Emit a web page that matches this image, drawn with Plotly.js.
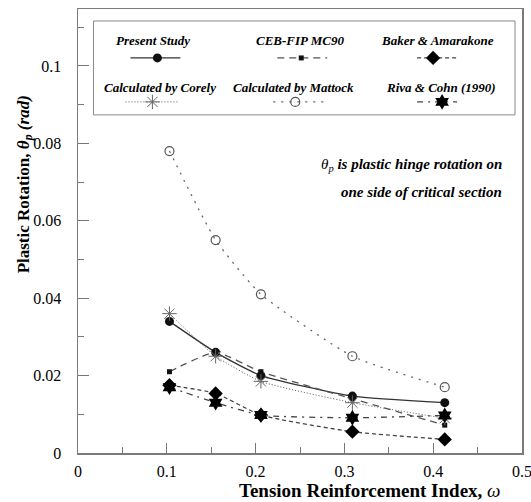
<!DOCTYPE html>
<html>
<head>
<meta charset="utf-8">
<script src="https://cdn.plot.ly/plotly-3.0.1.min.js"></script>
<style>html,body{margin:0;padding:0;background:#fff;}#chart{width:531px;height:502px;}</style>
</head>
<body>
<div id="chart"></div>
<script>
// ---- data ----
var omega = [0.103, 0.155, 0.206, 0.309, 0.413];
var presentStudy = [0.034, 0.026, 0.020, 0.0147, 0.013];
var cebFip = [0.021, 0.026, 0.021, 0.014, 0.0072];
var bakerAmarakone = [0.0175, 0.0154, 0.0098, 0.0055, 0.0035];
var corely = [0.036, 0.025, 0.0185, 0.013, 0.009];
var mattock = [0.078, 0.055, 0.041, 0.025, 0.017];
var rivaCohn = [0.017, 0.013, 0.0098, 0.0091, 0.0097];
var seriesNames = ["Present Study", "CEB-FIP MC90", "Baker &amp; Amarakone",
                   "Calculated by Corely", "Calculated by Mattock", "Riva &amp; Cohn (1990)"];
var xTicks = [0, 0.1, 0.2, 0.3, 0.4, 0.5];
var yTicks = [0, 0.02, 0.04, 0.06, 0.08, 0.1];

var FONT = "'Liberation Serif', 'Times New Roman', Times, serif";

var styles = [
  {line:{color:'#333', width:1.3, dash:'solid'}, marker:{symbol:'circle', size:9, color:'#111'}},
  {line:{color:'#555', width:1.3, dash:'7px,5px'}, marker:{symbol:'square', size:5, color:'#111'}},
  {line:{color:'#444', width:1.3, dash:'4px,3px'}, marker:{symbol:'diamond', size:11, color:'#000'}},
  {line:{color:'#555', width:1, dash:'1px,2px'}, marker:{symbol:'asterisk-open', size:12, color:'#666', line:{color:'#666', width:1}}},
  {line:{color:'#666', width:1.3, dash:'2px,6px'}, marker:{symbol:'circle-open', size:9, color:'#555', line:{color:'#555', width:1.2}}},
  {line:{color:'#444', width:1.3, dash:'6px,5px,2px,5px'}, marker:{symbol:'hexagram', size:12, color:'#000'}}
];
var seriesData = [presentStudy, cebFip, bakerAmarakone, corely, mattock, rivaCohn];

var traces = [];
seriesData.forEach(function(ys, i){
  traces.push({
    x: omega, y: ys, type:'scatter', mode:'lines+markers',
    name: seriesNames[i], showlegend:false,
    line: Object.assign({shape:'spline', smoothing:0.5}, styles[i].line),
    marker: styles[i].marker
  });
});

var L = 77.5, R = 522, T = 9, B = 453.5;
function px(xp){ return (xp - L) / (R - L); }
function py(yp){ return (B - yp) / (B - T); }

// ---- custom legend (pixel coordinates on hidden overlay axes) ----
var legendItems = [
  {text:seriesNames[0], tx:153, ty:41, x1:130, x2:180, xm:157, y:58},
  {text:seriesNames[1], tx:300, ty:41, x1:277, x2:327, xm:301, y:58},
  {text:seriesNames[2], tx:437, ty:41, x1:417, x2:457, xm:433, y:58},
  {text:seriesNames[3], tx:160, ty:88, x1:125, x2:178, xm:152, y:102},
  {text:seriesNames[4], tx:293, ty:88, x1:273, x2:327, xm:295, y:102},
  {text:seriesNames[5], tx:441, ty:88, x1:417, x2:457, xm:442, y:102}
];
var annotations = [];
function ann(o){ o.xref='paper'; o.yref='paper'; o.showarrow=false;
  if(!o.xanchor) o.xanchor='center'; o.yanchor='middle'; annotations.push(o); }
legendItems.forEach(function(it, i){
  traces.push({x:[it.x1, it.x2], y:[it.y, it.y], xaxis:'x2', yaxis:'y2', mode:'lines',
    line: styles[i].line, showlegend:false, hoverinfo:'skip'});
  traces.push({x:[it.xm], y:[it.y], xaxis:'x2', yaxis:'y2', mode:'markers',
    marker: styles[i].marker, showlegend:false, hoverinfo:'skip'});
  ann({x:px(it.tx), y:py(it.ty), text:'<b><i>'+it.text+'</i></b>', font:{family:FONT, size:13, color:'#000'}});
});

ann({x:px(504), y:py(165), xanchor:'right',
  text:'<i>θ<sub>p</sub></i><b><i> is plastic hinge rotation on</i></b>',
  font:{family:FONT, size:15, color:'#000'}});
ann({x:px(504), y:py(192), xanchor:'right',
  text:'<b><i>one side of critical section</i></b>',
  font:{family:FONT, size:15, color:'#000'}});

ann({x:px(370), y:py(491),
  text:'<b>Tension Reinforcement Index,</b> <i>ω</i>',
  font:{family:FONT, size:19, color:'#000'}});
ann({x:px(24), y:py(185), textangle:-90,
  text:'<b>Plastic Rotation, </b><b><i>θ<sub>p</sub></i></b> <b><i>(rad)</i></b>',
  font:{family:FONT, size:17, color:'#000'}});

var layout = {
  width:531, height:502,
  margin:{l:L, r:531-R, t:T, b:502-B, pad:0},
  paper_bgcolor:'#fff', plot_bgcolor:'#fff',
  showlegend:false,
  font:{family:FONT, size:16, color:'#000'},
  xaxis:{range:[0,0.5], tickvals:xTicks, ticks:'inside', ticklen:10, tickwidth:1, tickcolor:'#777',
    showline:true, linecolor:'#7a7a7a', linewidth:1.5, mirror:true, showgrid:false, zeroline:false,
    minor:{dtick:0.05, ticks:'inside', ticklen:6, tickcolor:'#777', showgrid:false},
    tickfont:{family:FONT, size:16}, ticklabelstandoff:3, ticklabeloverflow:'allow'},
  yaxis:{range:[0,0.1147], tickvals:yTicks, ticks:'inside', ticklen:11, tickwidth:1, tickcolor:'#777',
    showline:true, linecolor:'#7a7a7a', linewidth:1.5, mirror:true, showgrid:false, zeroline:false,
    minor:{dtick:0.01, ticks:'inside', ticklen:6, tickcolor:'#777', showgrid:false},
    tickfont:{family:FONT, size:16}, ticklabelstandoff:12, ticklabeloverflow:'allow'},
  xaxis2:{overlaying:'x', range:[L, R], visible:false, fixedrange:true},
  yaxis2:{overlaying:'y', range:[B, T], visible:false, fixedrange:true},
  shapes:[{type:'rect', xref:'paper', yref:'paper', x0:px(93), x1:px(515), y0:py(21), y1:py(115),
    line:{color:'#888', width:1}, fillcolor:'rgba(0,0,0,0)'}],
  annotations: annotations
};

Plotly.newPlot('chart', traces, layout, {staticPlot:true, displayModeBar:false});
</script>
</body>
</html>
